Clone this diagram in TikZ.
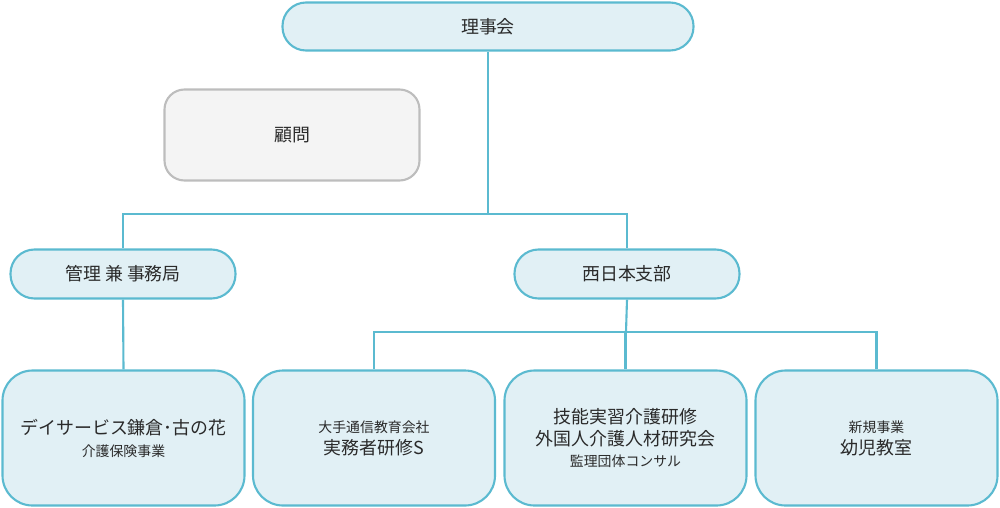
\documentclass[tikz,border=0pt]{standalone}
\usepackage{fontspec}
\setmainfont{Noto Sans CJK JP}

\newcommand{\bigtxt}{\fontsize{10.2pt}{12.5pt}\selectfont}
\newcommand{\smalltxt}{\fontsize{7.9pt}{10pt}\selectfont}

\begin{document}
\begin{tikzpicture}[x=0.2mm,y=0.2mm,
  unit/.style={draw=Edge,fill=Pale,line width=1.2pt,text=Ink,align=center,font=\bigtxt},
  head/.style={unit,minimum width=8.22cm,minimum height=0.96cm,rounded corners=0.47cm},
  office/.style={unit,minimum width=4.5cm,minimum height=0.98cm,rounded corners=0.48cm},
  branch/.style={unit,minimum width=4.84cm,minimum height=2.7cm,rounded corners=0.6cm},
  link/.style={draw=Edge,line width=1.2pt}]
%\draw[help lines] (0,0) grid (1000,-507);
\definecolor{Edge}{HTML}{5BBAD0}
\definecolor{Pale}{HTML}{E1F0F5}
\definecolor{Ink}{HTML}{2A2A2A}
\definecolor{GreyEdge}{HTML}{BDBDBD}
\definecolor{GreyFill}{HTML}{F4F4F4}
\useasboundingbox (0,0) rectangle (1000,-507);

%% Top level
\node[head] (board) at (488,-26.5) {理事会};
\node[unit,draw=GreyEdge,fill=GreyFill,minimum width=5.1cm,minimum height=1.82cm,
  rounded corners=0.4cm] (advisor) at (292,-135) {顧問};

%% Second level
\node[office] (office) at (123,-274) {管理 兼 事務局};
\node[office] (west) at (627,-274) {西日本支部};
\coordinate (split) at (488,-214);
\draw[link] (board.south) -- (split) -| (office.north);
\draw[link] (split) -| (west.north);

%% Bottom level
\node[branch] (dayservice) at (123.5,-438) {デイサービス鎌倉･古の花\\{\smalltxt 介護保険事業}};
\node[branch] (course) at (374,-438) {{\smalltxt 大手通信教育会社}\\実務者研修S};
\node[branch] (training) at (625.5,-438) {技能実習介護研修\\外国人介護人材研究会\\[-0.8pt]{\smalltxt 監理団体コンサル}};
\node[branch] (school) at (876.5,-438) {{\smalltxt 新規事業}\\幼児教室};
\draw[link] (office.south) -- (dayservice.north);
\coordinate (fork) at (626,-332);
\draw[link] (west.south) -- (fork);
\draw[link] (fork) -| (course.north);
\draw[link] (fork) -| (training.north);
\draw[link] (fork) -| (school.north);
\end{tikzpicture}
\end{document}
